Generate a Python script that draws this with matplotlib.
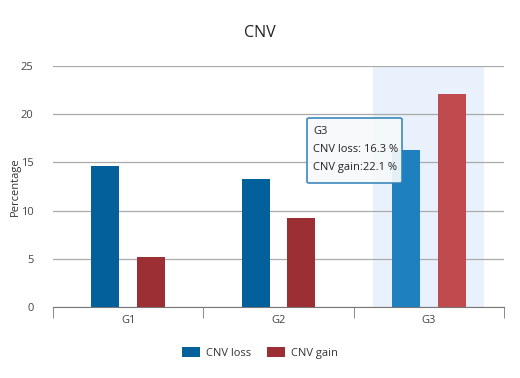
import matplotlib
matplotlib.use("Agg")
import matplotlib.pyplot as plt
from matplotlib.patches import FancyBboxPatch
import numpy as np

categories = ["G1", "G2", "G3"]
cnv_loss = [14.6, 13.3, 16.3]
cnv_gain = [5.2, 9.2, 22.1]
yticks = [0, 5, 10, 15, 20, 25]

plt.rcParams['font.family'] = ['Open Sans', 'DejaVu Sans']

fig = plt.figure(figsize=(5.2, 3.78), dpi=100)
W, H = 520, 378
ax = fig.add_axes([53 / W, 1 - 307 / H, (504 - 53) / W, (307 - 66) / H])

x = np.arange(len(categories))
bw = 0.187
off = 0.152
loss_colors = ["#03609a", "#03609a", "#1f80c0"]
gain_colors = ["#9b2f33", "#9b2f33", "#bf4b4e"]

# hover highlight band for G3
ax.axvspan(x[2] - 0.37, x[2] + 0.37, color="#e8f1fc", zorder=0, lw=0)

ax.bar(x - off, cnv_loss, width=bw, color=loss_colors, zorder=3, label="CNV loss")
ax.bar(x + off, cnv_gain, width=bw, color=gain_colors, zorder=3, label="CNV gain")

ax.set_xlim(-0.5, 2.5)
ax.set_ylim(0, 25)
ax.set_yticks(yticks)
ax.set_yticklabels([str(t) for t in yticks], fontsize=8, color="#444444")
ax.yaxis.grid(True, color="#aaaaaa", lw=0.9, zorder=1)
ax.tick_params(axis="y", length=0, pad=14)
ax.set_xticks(x)
ax.set_xticklabels(categories, fontsize=8, color="#444444")
ax.tick_params(axis="x", length=0, pad=6)
ax.set_xticks([-0.5, 0.5, 1.5, 2.5], minor=True)
ax.tick_params(axis="x", which="minor", length=8, color="#777777", direction="out")
for s in ["top", "right", "left"]:
    ax.spines[s].set_visible(False)
ax.spines["bottom"].set_color("#777777")
ax.set_ylabel("Percentage", fontsize=8, color="#333333", labelpad=0)

fig.text(0.5, 1 - 33 / H, "CNV", ha="center", va="center", fontsize=11.5, color="#222222")

leg = fig.legend(loc="center", bbox_to_anchor=(0.5, 1 - 353 / H), ncol=2, frameon=False,
                 fontsize=8, handlelength=1.6, handleheight=1.0, columnspacing=1.5,
                 handletextpad=0.5, labelcolor="#333333")

# tooltip
tx0, ty0, tx1, ty1 = 307, 118, 402, 183
box = FancyBboxPatch((tx0 / W, 1 - ty1 / H), (tx1 - tx0) / W, (ty1 - ty0) / H,
                     boxstyle="round,pad=0,rounding_size=0.004", transform=fig.transFigure,
                     facecolor="#f7f9fb", edgecolor="#2d7fb8", lw=1.2, alpha=0.92, zorder=10)
fig.add_artist(box)
lines_txt = [categories[2],
             f"CNV loss: {cnv_loss[2]} %",
             f"CNV gain:{cnv_gain[2]} %"]
for i, t in enumerate(lines_txt):
    fig.text((tx0 + 6) / W, 1 - (ty0 + 14 + i * 17.5) / H, t, fontsize=8, color="#222222",
             va="center", ha="left", zorder=11)

fig.savefig("out.png", dpi=100)
